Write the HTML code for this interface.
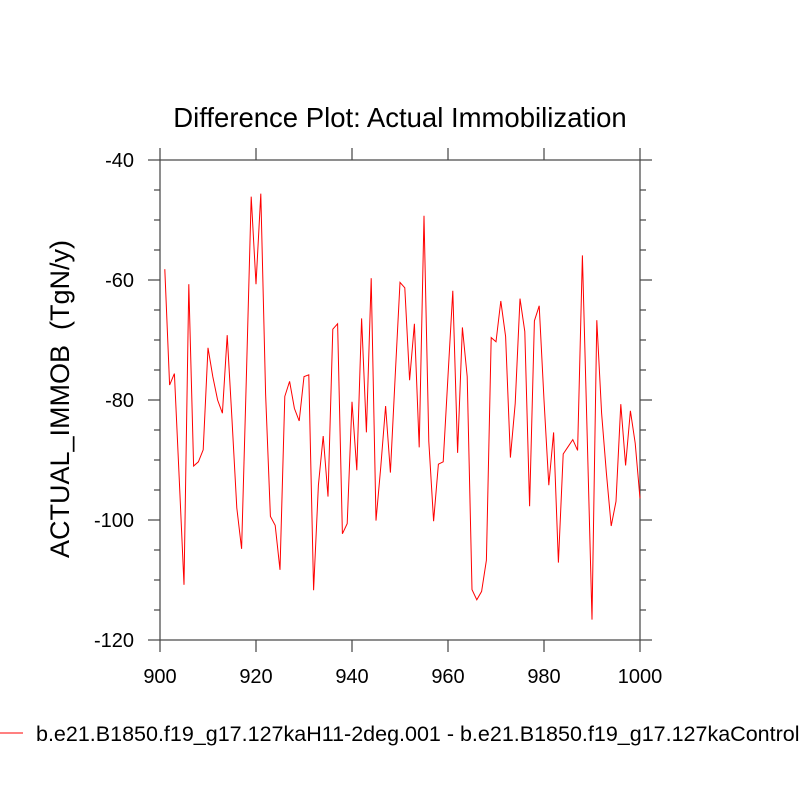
<!DOCTYPE html>
<html><head><meta charset="utf-8"><style>
body{margin:0;background:#fff;}
svg text{font-family:"Liberation Sans",sans-serif;fill:#000;}
</style></head><body>
<svg id="chart" width="800" height="800" xmlns="http://www.w3.org/2000/svg">
<text x="400" y="127" font-size="27.5" text-anchor="middle">Difference Plot: Actual Immobilization</text>
<text transform="translate(69,399) rotate(-90)" font-size="27" text-anchor="middle" xml:space="preserve">ACTUAL_IMMOB  (TgN/y)</text>
<g id="axes"></g>
<g id="series"></g>
<g>
<line x1="0" y1="733" x2="23" y2="733" stroke="#f00" stroke-width="1"/>
<text x="36" y="741" font-size="21.5">b.e21.B1850.f19_g17.127kaH11-2deg.001 - b.e21.B1850.f19_g17.127kaControl.001</text>
</g>
</svg>
<script>
const years = [];
for (let y = 901; y <= 1000; y++) years.push(y);
const values = [-58.2,-77.5,-75.6,-93,-110.8,-60.7,-91,-90.3,-88.3,-71.3,
-76.1,-80,-82.2,-69.2,-83.3,-98,-104.8,-76,-46.1,-60.7,
-45.6,-79,-99.4,-100.9,-108.3,-79.4,-76.9,-81.4,-83.5,-76.1,
-75.8,-111.7,-94.2,-86,-96.1,-68.2,-67.3,-102.3,-100.6,-80.3,
-91.7,-66.4,-85.4,-59.7,-100.1,-91.1,-81,-92.1,-76,-60.4,
-61.3,-76.7,-67.3,-87.9,-49.3,-86.9,-100.2,-90.7,-90.3,-76,
-61.8,-88.8,-67.9,-76.1,-111.6,-113.3,-111.9,-106.7,-69.6,-70.3,
-63.5,-69.4,-89.6,-80.6,-63.1,-68.6,-97.7,-66.8,-64.3,-80,
-94.2,-85.4,-107.1,-89,-87.8,-86.6,-88.4,-55.9,-86,-116.6,
-66.7,-82.2,-92.2,-101,-96.9,-80.7,-90.9,-81.8,-87.2,-96.4];
const xTicks = [900,920,940,960,980,1000];
const yTicks = [-40,-60,-80,-100,-120];
const NS = "http://www.w3.org/2000/svg";
const L=160,R=640,T=160,B=640;
const xs = v => L + (v-900)/(1000-900)*(R-L);
const ys = v => T + (-40-v)/(80)*(B-T);
function mk(tag, attrs, parent){const e=document.createElementNS(NS,tag);for(const k in attrs)e.setAttribute(k,attrs[k]);parent.appendChild(e);return e;}
const ax=document.getElementById('axes');
const frame=mk('rect',{x:L,y:T,width:R-L,height:B-T,fill:'none',stroke:'#444',"stroke-width":1.2},ax);


const tc='#444';
xTicks.forEach(v=>{
  const x=xs(v);
  mk('line',{x1:x,y1:B,x2:x,y2:B+12,stroke:tc,"stroke-width":1.2},ax);
  mk('line',{x1:x,y1:T,x2:x,y2:T-12,stroke:tc,"stroke-width":1.2},ax);
});
for(let v=-40;v>=-120;v-=5){
  const major=(v%20===0);const len=major?12:6;const y=ys(v);
  mk('line',{x1:L,y1:y,x2:L-len,y2:y,stroke:tc,"stroke-width":1.2},ax);
  mk('line',{x1:R,y1:y,x2:R+len,y2:y,stroke:tc,"stroke-width":1.2},ax);
}
xTicks.forEach(v=>{
  const t=mk('text',{x:xs(v),y:B+43,"font-size":20,"text-anchor":"middle"},ax);
  t.textContent=v;
  
  
});
yTicks.forEach(v=>{
  const t=mk('text',{x:134,y:ys(v)+7,"font-size":20,"text-anchor":"end"},ax);
  t.textContent=v;
  
  
});
const pts=years.map((y,i)=>xs(y).toFixed(2)+','+ys(values[i]).toFixed(2)).join(' ');
const line=mk('polyline',{points:pts,fill:'none',stroke:'#f00',"stroke-width":1},document.getElementById('series'));


</script>
</body></html>
